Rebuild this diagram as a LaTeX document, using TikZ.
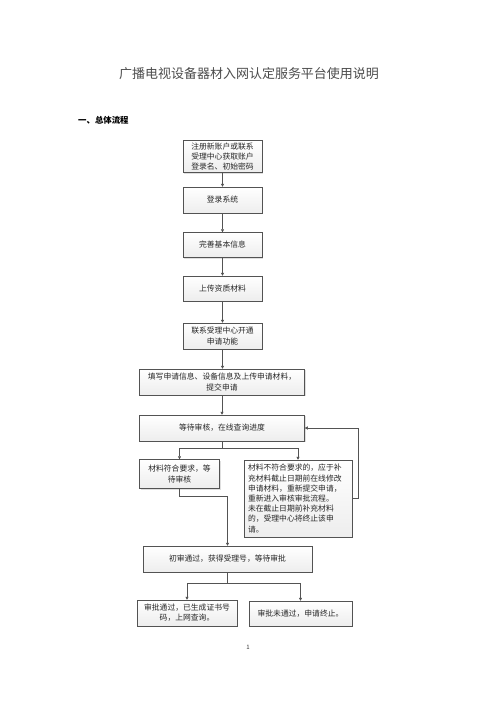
\documentclass[tikz,border=0pt]{standalone}
\usepackage{fontspec}
\setmainfont{Noto Sans CJK SC}
\usetikzlibrary{arrows.meta,shadows}

\begin{document}
\begin{tikzpicture}[x=1pt,y=-1pt,
	box/.style={draw=gray!65!black, line width=0.5pt, top color=white, bottom color=gray!14,
		drop shadow={shadow xshift=1.2pt, shadow yshift=-1.2pt, opacity=0.25},
		inner sep=2pt, align=center, text=black!85,
		font=\fontsize{7.8}{10.2}\selectfont},
	arr/.style={draw=gray!65!black, line width=0.5pt, -{Triangle[length=3pt,width=3pt]}},
	link/.style={draw=gray!65!black, line width=0.5pt}]
	\fill[white] (0,0) rectangle (496,702);
	\useasboundingbox (0,0) rectangle (496,702);

	\node[text=black!70, font=\fontsize{13}{15}\selectfont] (title) at (249,74) {广播电视设备器材入网认定服务平台使用说明};
	\node[anchor=west, inner sep=0pt, font=\fontsize{8.4}{10}\selectfont\bfseries] (head) at (78,120) {一、总体流程};

	\node[box, minimum width=79pt, minimum height=31pt] (reg) at (222.5,156.5) {注册新账户或联系\\受理中心获取账户\\登录名、初始密码};
	\node[box, minimum width=79pt, minimum height=26pt] (login) at (222.5,200) {登录系统};
	\node[box, minimum width=79pt, minimum height=25pt] (info) at (222.5,245) {完善基本信息};
	\node[box, minimum width=79pt, minimum height=25pt] (upload) at (222.5,288.5) {上传资质材料};
	\node[box, minimum width=79pt, minimum height=26pt] (contact) at (222.5,336) {联系受理中心开通\\申请功能};
	\node[box, minimum width=165pt, minimum height=26pt] (apply) at (222,382) {填写申请信息、设备信息及上传申请材料，\\提交申请};
	\node[box, minimum width=165pt, minimum height=26pt] (wait) at (222,428) {等待审核，在线查询进度};
	\node[box, minimum width=80pt, minimum height=29pt] (ok) at (179.5,474) {材料符合要求，等\\待审核};
	\node[box, text width=100pt, align=left, inner sep=4pt, minimum height=77pt] (notok) at (298,498.5) {材料不符合要求的，应于补\\充材料截止日期前在线修改\\申请材料，重新提交申请，\\重新进入审核审批流程。\\未在截止日期前补充材料\\的，受理中心将终止该申\\请。};
	\node[box, minimum width=169pt, minimum height=26pt] (pass) at (227.5,559) {初审通过，获得受理号，等待审批};
	\node[box, minimum width=100pt, minimum height=26pt] (approve) at (187,613) {审批通过，已生成证书号\\码，上网查询。};
	\node[box, minimum width=103pt, minimum height=25pt] (reject) at (300.5,613.5) {审批未通过，申请终止。};

	\node[font=\fontsize{6}{7}\selectfont, text=black!80] (page) at (248,647) {1};

	\coordinate (br1) at (222,448.5);
	\coordinate (j1) at (227.5,496);
	\coordinate (br2) at (227.5,583);

	\draw[arr] (reg) -- (login);
	\draw[arr] (login) -- (info);
	\draw[arr] (info) -- (upload);
	\draw[arr] (upload) -- (contact);
	\draw[arr] (contact.south) -- (apply.north -| contact.south);
	\draw[arr] (apply) -- (wait);

	\draw[link] (wait.south) -- (br1);
	\draw[arr] (br1) -| (ok.north);
	\draw[arr] (br1) -| (notok.north);
	\draw[arr] (notok.east) -- ++(6,0) |- (wait.east);

	\draw[link] (ok.south) |- (j1);
	\draw[arr] (j1) -- (pass.north);

	\draw[link] (pass.south) -- (br2);
	\draw[arr] (br2) -| (approve.north);
	\draw[arr] (br2) -| (reject.north);
\end{tikzpicture}
\end{document}
